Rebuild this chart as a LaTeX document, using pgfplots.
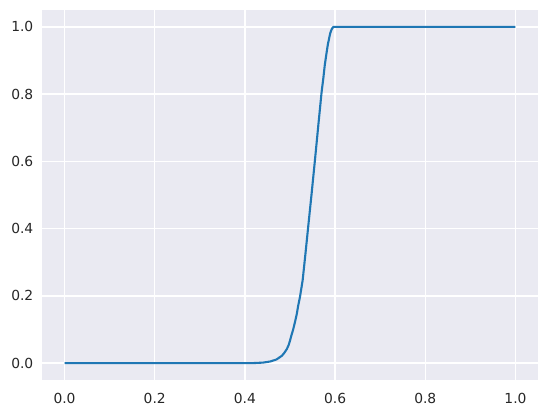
\documentclass[border=0pt]{standalone}
\usepackage{fontspec}
\setmainfont{DejaVu Sans}
\usepackage{pgfplots}
\pgfplotsset{compat=1.18}
\definecolor{bgcol}{HTML}{EAEAF2}
\definecolor{tickcol}{HTML}{262626}
\definecolor{c0}{HTML}{1F77B4}
\begin{document}
\begin{tikzpicture}
\begin{axis}[
    name=ax,
    scale only axis,
    width=496bp, height=370bp,
    xmin=-0.05, xmax=1.05,
    ymin=-0.05, ymax=1.05,
    xtick={0,0.2,...,1.0},
    ytick={0,0.2,...,1.0},
    major tick length=0pt,
    axis line style={draw=none},
    axis background/.style={fill=bgcol},
    grid=major,
    major grid style={white, line width=1.39bp},
    font=\fontsize{13.9}{16}\selectfont,
    tick label style={text=tickcol},
    xticklabel style={yshift=-9.5bp},
    yticklabel style={xshift=-5.2bp},
    /pgf/number format/assume math mode=true,
    /pgf/number format/.cd, fixed, fixed zerofill, precision=1,
]
% curve
\addplot [c0, line width=2.1bp, line join=round] coordinates {
    (0,0) (0.40,0) (0.42,0.0004) (0.44,0.0017) (0.456,0.005) (0.470,0.011)
    (0.482,0.022) (0.487,0.030) (0.493,0.042) (0.497,0.054) (0.500,0.067)
    (0.503,0.082) (0.507,0.100) (0.511,0.122) (0.515,0.146) (0.518,0.170)
    (0.522,0.196) (0.528,0.246) (0.534,0.322) (0.541,0.414) (0.548,0.505)
    (0.556,0.613) (0.563,0.710) (0.570,0.805) (0.574,0.848) (0.577,0.885)
    (0.581,0.922) (0.584,0.948) (0.587,0.967) (0.589,0.980) (0.591,0.988)
    (0.593,0.994) (0.595,0.998) (0.597,1.0) (0.600,1.0) (1.0,1.0)
};
\end{axis}
\path ([xshift=-42bp,yshift=-33bp]ax.south west) rectangle ([xshift=9bp,yshift=10bp]ax.north east);
\end{tikzpicture}
\end{document}
